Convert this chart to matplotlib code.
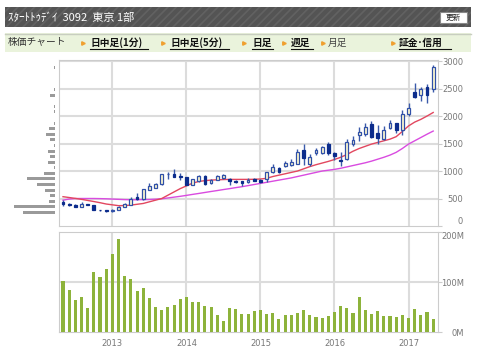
import matplotlib.pyplot as plt
from matplotlib.patches import Rectangle
import numpy as np

plt.rcParams['font.family'] = ['Noto Sans CJK JP', 'DejaVu Sans']

# monthly candles, May 2012 .. May 2017
opens = [440, 400, 390, 350, 395, 380, 295, 290, 265, 300, 350, 390, 520, 485, 660, 695,
         760, 940, 945, 900, 895, 750, 810, 905, 780, 845, 870, 860, 820, 810, 800, 860,
         840, 855, 975, 1050, 1090, 1110, 1130, 1390, 1130, 1320, 1320, 1485, 1330, 1200,
         1210, 1490, 1655, 1665, 1850, 1700, 1575, 1790, 1865, 1745, 2030, 2440, 2385, 2530, 2500]
highs = [470, 420, 400, 440, 405, 390, 300, 300, 310, 370, 410, 520, 600, 680, 775, 775,
         950, 990, 1030, 970, 900, 860, 935, 920, 860, 920, 940, 870, 830, 820, 880, 880,
         850, 990, 1120, 1070, 1180, 1210, 1400, 1500, 1310, 1420, 1460, 1520, 1350, 1350,
         1580, 1640, 1800, 1870, 1910, 1840, 1820, 1925, 1870, 2110, 2230, 2600, 2520, 2580, 2920]
lows = [370, 365, 345, 345, 380, 285, 265, 255, 250, 290, 340, 385, 480, 480, 650, 685,
        750, 850, 890, 830, 740, 740, 800, 740, 770, 830, 860, 750, 780, 730, 790, 810,
        790, 800, 965, 970, 1070, 1100, 1120, 1110, 1090, 1300, 1310, 1300, 1200, 1090,
        1200, 1460, 1550, 1640, 1600, 1500, 1560, 1770, 1700, 1650, 2000, 2320, 2280, 2230, 2440]
closes = [400, 375, 350, 400, 388, 290, 285, 265, 290, 350, 400, 490, 490, 665, 725, 760,
          945, 955, 900, 890, 750, 850, 905, 770, 845, 905, 925, 820, 805, 790, 830, 820,
          800, 985, 1075, 980, 1155, 1170, 1340, 1230, 1260, 1380, 1440, 1320, 1270, 1175,
          1530, 1560, 1715, 1805, 1625, 1605, 1745, 1865, 1745, 2030, 2150, 2355, 2500, 2385, 2895]
volumes = [102, 85, 64, 71, 49, 121, 111, 126, 157, 186, 113, 107, 82, 89, 69, 51, 45, 51, 55, 66,
           70, 61, 61, 53, 51, 35, 23, 48, 47, 36, 37, 43, 45, 36, 39, 27, 35, 35, 38, 45,
           35, 31, 29, 33, 41, 53, 48, 39, 70, 44, 36, 43, 32, 33, 31, 35, 29, 47, 35, 41, 27]
ma_short = [533, 518, 502, 485, 465, 445, 424, 400, 385, 370, 372, 380, 395, 410, 440, 470,
            500, 560, 620, 680, 730, 780, 810, 825, 835, 840, 845, 848, 848, 848, 848, 850,
            855, 867, 900, 925, 950, 975, 1000, 1040, 1080, 1115, 1145, 1175, 1210, 1250,
            1300, 1360, 1410, 1450, 1490, 1520, 1550, 1580, 1625, 1720, 1820, 1890, 1940, 2000, 2065]
ma_long = [470, 490, 500, 500, 500, 500, 498, 495, 490, 485, 480, 478, 478, 480, 482, 488,
           495, 510, 525, 540, 557, 575, 592, 610, 628, 645, 663, 680, 698, 715, 735, 755,
           775, 795, 815, 835, 855, 875, 900, 925, 950, 975, 1000, 1015, 1030, 1050,
           1075, 1100, 1125, 1150, 1180, 1215, 1250, 1290, 1340, 1410, 1490, 1550, 1610, 1670, 1727]
# volume by price (left histogram)
vap_prices = [248, 349, 451, 552, 654, 755, 857, 958, 1060, 1161, 1263, 1364, 1466, 1567,
              1669, 1770, 1872, 2075, 2176, 2379, 2481, 2887]
vap_volume = [32, 41, 6, 5, 10, 18, 28, 11, 1.5, 7, 5, 7, 1.5, 5, 9, 6, 1.5, 1.5, 1.5, 5, 1.5, 1.5]
year_pos = [8, 20, 32, 44, 56]
year_labels = ['2013', '2014', '2015', '2016', '2017']
price_ticks = [0, 500, 1000, 1500, 2000, 2500, 3000]
vol_ticks = [0, 100, 200]
vol_labels = ['0M', '100M', '200M']

fig = plt.figure(figsize=(4.8, 3.64), dpi=100)

# header / menu in pixel coordinates
bg = fig.add_axes([0, 0, 1, 1])
bg.set_xlim(0, 480)
bg.set_ylim(364, 0)
bg.axis('off')
plt.rcParams['hatch.linewidth'] = 1.2
bg.add_patch(Rectangle((5, 7), 466, 20, facecolor='#545454', edgecolor='#626262', hatch='////', lw=0))
bg.text(8, 17.5, 'ｽﾀｰﾄﾄｩﾃﾞｲ  3092  東京 1部', color='white', fontsize=8, va='center')
bg.add_patch(Rectangle((440, 12), 27, 11, facecolor='white', edgecolor='#888888', lw=0.8))
bg.text(453.5, 17.5, '更新', fontsize=5.5, ha='center', va='center', color='#222222')
bg.add_patch(Rectangle((5, 33), 466, 19, facecolor='#eaf3dc', edgecolor='none'))
bg.plot([5, 471], [33.5, 33.5], color='#c8cec0', lw=1)
bg.text(8, 42.5, '株価チャート', fontsize=7, va='center', color='#333333')
menu = [('日中足(1分)', 83, 90, 148, True), ('日中足(5分)', 163, 170, 229, True),
        ('日足', 244, 252, 273, True), ('週足', 284, 291, 313, True),
        ('月足', 323, 328, 350, False), ('証金･信用', 393, 399, 451, True)]
for label, ax_x, tx, tx_end, link in menu:
    bg.plot(ax_x, 43, marker='>', ms=2.5, color='#f0a030', mec='#f0a030')
    if link:
        bg.text(tx, 42.5, label, fontsize=7, va='center', fontweight='bold', color='#111111')
        bg.plot([tx, tx_end], [48.5, 48.5], color='#111111', lw=0.8)
    else:
        bg.text(tx, 42.5, label, fontsize=7, va='center', color='#444444')

x = np.arange(len(closes))
grid_c = '#dcdcdc'
lab_c = '#777777'

# price panel
ax = fig.add_axes([59 / 480, 1 - 226 / 364, 379 / 480, 166 / 364])
ax.set_xlim(-0.65, 60.78)
ax.set_ylim(0, 3020)
for p in price_ticks[1:]:
    ax.axhline(p, color=grid_c, lw=1.5, zorder=0)
for yp in year_pos:
    ax.axvline(yp, color=grid_c, lw=1.5, zorder=0)
ax.plot(x, ma_long, color='#d94be0', lw=1, zorder=2)
ax.plot(x, ma_short, color='#e2475f', lw=1, zorder=2)
for i in x:
    o, h, l, c = opens[i], highs[i], lows[i], closes[i]
    ax.vlines(i, l, h, color='#3a5aaa', lw=1, zorder=3)
    bottom = min(o, c)
    height = max(abs(c - o), 12)
    if c >= o:
        ax.bar(i, height, bottom=bottom, width=0.45, facecolor='#fffad0', edgecolor='#3050a8', lw=0.9, zorder=4)
    else:
        ax.bar(i, height, bottom=bottom, width=0.45, facecolor='#0c2c8c', edgecolor='#0c2c8c', lw=0.9, zorder=4)
ax.yaxis.tick_right()
ax.set_yticks(price_ticks)
ax.set_yticklabels([str(p) for p in price_ticks], family='DejaVu Sans', fontsize=6, color=lab_c)
for tl in ax.get_yticklabels():
    tl.set_ha('right')
ax.get_yticklabels()[0].set_va('bottom')
ax.tick_params(axis='y', length=3, color='#cccccc', pad=15)
ax.set_xticks([])
for s in ax.spines.values():
    s.set_color('#cccccc')

# volume by price
hax = fig.add_axes([0, 1 - 226 / 364, 55 / 480, 166 / 364])
hax.barh(vap_prices, vap_volume, height=55, color='#9a9a9a')
hax.set_ylim(0, 3020)
hax.set_xlim(55, 0)
hax.axis('off')

# volume panel
vax = fig.add_axes([59 / 480, 1 - 332 / 364, 379 / 480, 100 / 364])
vax.set_xlim(-0.65, 60.78)
vax.set_ylim(0, 200)
vax.axhline(100, color=grid_c, lw=1.5, zorder=0)
for yp in year_pos:
    vax.axvline(yp, color=grid_c, lw=1.5, zorder=0)
vax.bar(x, volumes, width=0.5, color='#8db33b', zorder=3)
vax.yaxis.tick_right()
vax.set_yticks(vol_ticks)
vax.set_yticklabels(vol_labels, family='DejaVu Sans', fontsize=6, color=lab_c)
for tl in vax.get_yticklabels():
    tl.set_ha('right')
vax.get_yticklabels()[-1].set_va('top')
vax.tick_params(axis='y', length=3, color='#cccccc', pad=16)
vax.set_xticks(year_pos)
vax.set_xticklabels(year_labels, family='DejaVu Sans', fontsize=6, color=lab_c)
vax.tick_params(axis='x', length=0, pad=5)
for s in vax.spines.values():
    s.set_color('#cccccc')

fig.savefig('out.png', dpi=100)
